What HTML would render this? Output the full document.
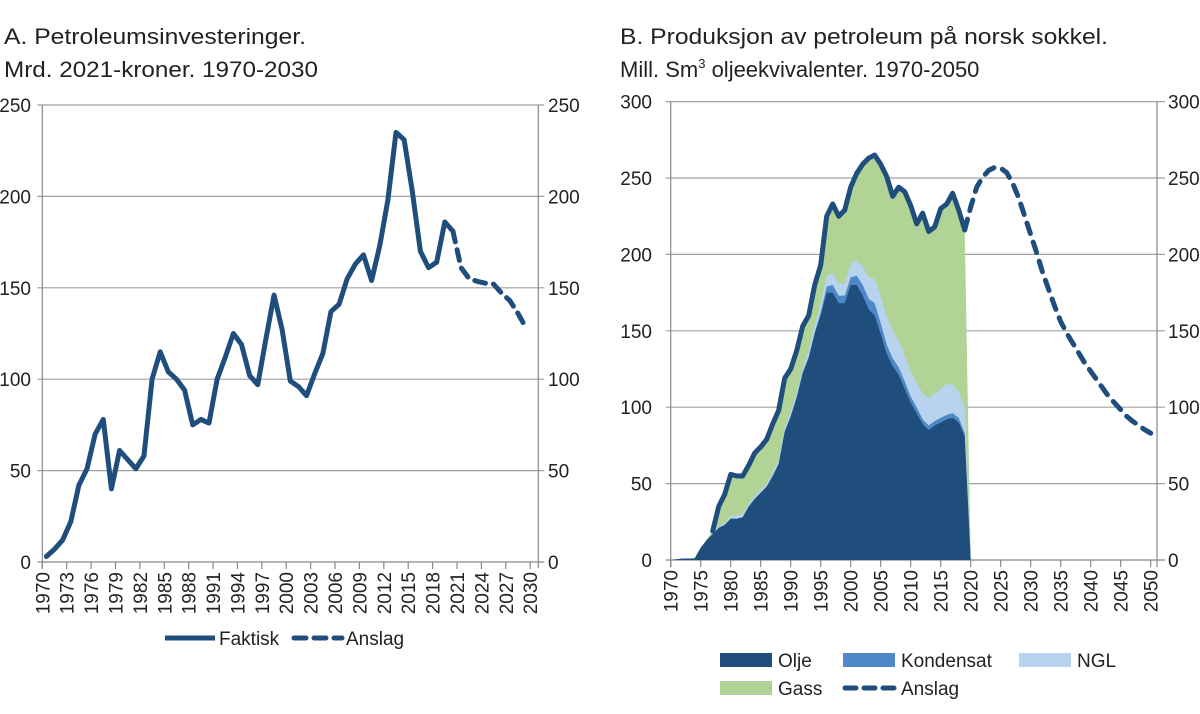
<!DOCTYPE html>
<html><head><meta charset="utf-8"><style>
html,body{margin:0;padding:0;background:#fff;}
svg{display:block;font-family:"Liberation Sans",sans-serif;}
</style></head><body>
<svg id="root" width="1200" height="714" viewBox="0 0 1200 714" xmlns="http://www.w3.org/2000/svg">
<g id="chartA">
<text x="4" y="44" font-size="22" fill="#222" textLength="302" lengthAdjust="spacingAndGlyphs">A. Petroleumsinvesteringer.</text>
<text x="4" y="77" font-size="22" fill="#222" textLength="314" lengthAdjust="spacingAndGlyphs">Mrd. 2021-kroner. 1970-2030</text>
</g>
<g id="chartB">
<text x="620" y="44" font-size="22" fill="#222" textLength="488" lengthAdjust="spacingAndGlyphs">B. Produksjon av petroleum på norsk sokkel.</text>
<text x="620" y="77" font-size="22" fill="#222">Mill. Sm<tspan font-size="13" dy="-9">3</tspan><tspan dy="9"> oljeekvivalenter. 1970-2050</tspan></text>
</g>
</svg>
<script>
// ---------- Chart A data ----------
const aYears = [1970,1971,1972,1973,1974,1975,1976,1977,1978,1979,1980,1981,1982,1983,1984,1985,1986,1987,1988,1989,1990,1991,1992,1993,1994,1995,1996,1997,1998,1999,2000,2001,2002,2003,2004,2005,2006,2007,2008,2009,2010,2011,2012,2013,2014,2015,2016,2017,2018,2019,2020];
const aActual = [3,7,12,22,42,51,70,78,40,61,56,51,58,100,115,104,100,94,75,78,76,100,112,125,119,102,97,122,146,127,99,96,91,103,114,137,141,155,163,168,154,173,198,235,231,203,170,161,164,186,181];
const aForecastYears = [2020,2021,2022,2023,2024,2025,2026,2027,2028,2029];
const aForecast = [181,161,155,153.5,152.5,152,147,143,136,128];
const aYTicks = [0,50,100,150,200,250];
const aXLabels = [1970,1973,1976,1979,1982,1985,1988,1991,1994,1997,2000,2003,2006,2009,2012,2015,2018,2021,2024,2027,2030];

// ---------- Chart B data ----------
const bYears = [1970,1971,1972,1973,1974,1975,1976,1977,1978,1979,1980,1981,1982,1983,1984,1985,1986,1987,1988,1989,1990,1991,1992,1993,1994,1995,1996,1997,1998,1999,2000,2001,2002,2003,2004,2005,2006,2007,2008,2009,2010,2011,2012,2013,2014,2015,2016,2017,2018,2019];
const bOil = [0,0.5,1,1,1,8,13,17,21,23,27,27,28,35,40,44,48,55,63,84,94,106,122,132,148,160,175,175,168,168,180,180,173,164,160,148,135,127,121,112,103,96,89,85,88,90,92,93,90,81];
const bCond = [0,0,0,0,0,0,0,0,0,0,0,0,0,0,0,0,0,0,0,0,0,1,1,1,1,2,4,5,5,5,5,6,7,7,8,7,6,5,5,5,4,4,3,3,3,3,3,3,3,2];
const bNgl = [0,0,0,0,0,0,0,0.5,1,1,2,2,2,2,2,2,2,2,3,3,3,3,3,4,5,6,7,8,8,8,9,10,12,14,16,18,18,18,18,17,16,16,17,18,18,19,20,19,17,17];
const bGas = [0,0,0,0,0.5,0,0.5,1.5,13,19,27,26,25,25,28,28,29,32,32,32,28,27,27,23,26,25,39,45,44,48,50,57,67,78,81,86,92,88,100,107,109,104,118,109,109,118,118,125,119,116];
const bForecastYears = [2019,2020,2021,2022,2023,2024,2025,2026,2027,2028,2029,2030,2031,2032,2033,2034,2035,2036,2037,2038,2039,2040,2041,2042,2043,2044,2045,2046,2047,2048,2049,2050];
const bForecast = [216,231,244,250.5,255,257,256.5,253.5,246.5,237,225,213,201,188,177,166,156,148.5,142,135.5,129,123.5,118,112.5,107,102.7,98.4,94,90.8,88,85.3,83];
const bYTicks = [0,50,100,150,200,250,300];
const bXLabels = [1970,1975,1980,1985,1990,1995,2000,2005,2010,2015,2020,2025,2030,2035,2040,2045,2050];

const NS = "http://www.w3.org/2000/svg";
function mk(parent, tag, attrs){ const e=document.createElementNS(NS,tag); for(const k in attrs) e.setAttribute(k,attrs[k]); parent.appendChild(e); return e; }
const BLUE = "#1f4e7d";

// ---------- Chart A ----------
(function(){
  const g = document.getElementById('chartA');
  const L=42.3, R=538.3, Y0=562, Y1=105, vmax=250, step=(R-L)/61;
  const y = v => Y0 - (v/vmax)*(Y0-Y1);
  const xc = yr => L + (yr-1970+0.5)*step;
  const xt = yr => L + (yr-1970)*step;
  aYTicks.forEach(t=>{
    const ln = mk(g,'line',{x1:L-5,x2:R+6,y1:y(t),y2:y(t),stroke:t===0?'#888':'#a0a0a0','stroke-width':1.2});
    
    
    const tl = mk(g,'text',{x:31,y:y(t)+7,'text-anchor':'end','font-size':19,fill:'#222'});
    tl.textContent=t;
    
    
    const tr = mk(g,'text',{x:548,y:y(t)+7,'font-size':19,fill:'#222'});
    tr.textContent=t;
    
    
  });
  const ax1 = mk(g,'line',{x1:L,x2:L,y1:Y1,y2:Y0+6,stroke:'#888','stroke-width':1.2});
  
  
  const ax2 = mk(g,'line',{x1:R,x2:R,y1:Y1,y2:Y0+6,stroke:'#888','stroke-width':1.2});
  
  
  aXLabels.forEach(yr=>{
    const tk = mk(g,'line',{x1:xt(yr),x2:xt(yr),y1:Y0,y2:Y0+7,stroke:'#888','stroke-width':1.2});
    
    
    const t = mk(g,'text',{transform:`translate(${xt(yr)+7},${Y0+10}) rotate(-90)`,'text-anchor':'end','font-size':19,fill:'#222'});
    t.textContent=yr;
    
    
  });
  const p1 = mk(g,'polyline',{points:aYears.map((yr,i)=>xc(yr)+','+y(aActual[i])).join(' '),fill:'none',stroke:BLUE,'stroke-width':5,'stroke-linejoin':'round','stroke-linecap':'round'});
  
  
  const p2 = mk(g,'polyline',{points:aForecastYears.map((yr,i)=>xc(yr)+','+y(aForecast[i])).join(' '),fill:'none',stroke:BLUE,'stroke-width':5,'stroke-dasharray':'11 8','stroke-linejoin':'round','stroke-linecap':'round'});
  
  
  // legend
  const lg = mk(g,'g',{});
  
  
  const l1 = mk(lg,'line',{x1:165,x2:215,y1:638,y2:638,stroke:BLUE,'stroke-width':5});
  
  
  const t1 = mk(lg,'text',{x:219,y:645,'font-size':19,fill:'#222'}); t1.textContent='Faktisk';
  
  
  const l2 = mk(lg,'line',{x1:294,x2:342,y1:638,y2:638,stroke:BLUE,'stroke-width':5,'stroke-dasharray':'12 8','stroke-linecap':'round'});
  
  
  const t2 = mk(lg,'text',{x:346,y:645,'font-size':19,fill:'#222'}); t2.textContent='Anslag';
  
  
})();

// ---------- Chart B ----------
(function(){
  const g = document.getElementById('chartB');
  const L=670.7, R=1157, Y0=560, Y1=101.6, vmax=300, step=6;
  const y = v => Y0 - (v/vmax)*(Y0-Y1);
  const x = yr => L + (yr-1970)*step;
  bYTicks.forEach(t=>{
    const ln = mk(g,'line',{x1:L-5,x2:R+8,y1:y(t),y2:y(t),stroke:t===0?'#888':'#a0a0a0','stroke-width':1.2});
    
    
    const tl = mk(g,'text',{x:652,y:y(t)+7,'text-anchor':'end','font-size':19,fill:'#222'});
    tl.textContent=t;
    
    
    const tr = mk(g,'text',{x:1168,y:y(t)+7,'font-size':19,fill:'#222'});
    tr.textContent=t;
    
    
  });
  bXLabels.forEach(yr=>{
    const tk = mk(g,'line',{x1:x(yr),x2:x(yr),y1:Y0,y2:Y0+7,stroke:'#888','stroke-width':1.2});
    
    
    const t = mk(g,'text',{transform:`translate(${x(yr)+7},${Y0+10}) rotate(-90)`,'text-anchor':'end','font-size':19,fill:'#222'});
    t.textContent=yr;
    
    
  });
  // stacked areas
  const layers=[[bOil,'#1f4e7d','area-olje'],[bCond,'#4f88c6','area-kondensat'],[bNgl,'#b8d3ee','area-ngl'],[bGas,'#b1d396','area-gass']];
  const cum = bYears.map(()=>0);
  const polys=[];
  layers.forEach(([arr,col,name])=>{
    const low = cum.slice();
    arr.forEach((v,i)=>cum[i]+=v);
    const high = cum.slice();
    polys.push([low,high,col,name]);
  });
  const lastX = x(bYears[bYears.length-1]+1);
  polys.slice().reverse().forEach(([low,high,col,name])=>{
    let pts = bYears.map((yr,i)=>x(yr)+','+y(high[i]));
    pts.push(lastX+','+y(0));
    pts.push(x(bYears[0])+','+y(0));
    const p = mk(g,'polygon',{points:pts.join(' '),fill:col});
    
    
  });
  const ax1 = mk(g,'line',{x1:L,x2:L,y1:Y1,y2:Y0+7,stroke:'#888','stroke-width':1.2});
  
  
  const ax2 = mk(g,'line',{x1:R,x2:R,y1:Y1,y2:Y0+7,stroke:'#888','stroke-width':1.2});
  
  
  // total outline
  const startIdx = bYears.indexOf(1977);
  const tot = mk(g,'polyline',{points:bYears.slice(startIdx).map((yr,j)=>x(yr)+','+y(cum[j+startIdx])).join(' '),fill:'none',stroke:BLUE,'stroke-width':5,'stroke-linejoin':'round','stroke-linecap':'round'});
  
  
  const fc = mk(g,'polyline',{points:bForecastYears.map((yr,i)=>x(yr)+','+y(bForecast[i])).join(' '),fill:'none',stroke:BLUE,'stroke-width':5,'stroke-dasharray':'11 9','stroke-linejoin':'round','stroke-linecap':'round'});
  
  
  // legend
  const lg = mk(g,'g',{});
  
  
  const items=[['Olje','#1f4e7d',720,660,'legend-olje'],['Kondensat','#4f88c6',843,660,'legend-kondensat'],['NGL','#b8d3ee',1019,660,'legend-ngl'],['Gass','#b1d396',720,688,'legend-gass']];
  items.forEach(([lab,col,lx,ly,nm])=>{
    const r = mk(lg,'rect',{x:lx,y:ly-7,width:52,height:14,fill:col});
    
    
    const t = mk(lg,'text',{x:lx+58,y:ly+7,'font-size':19,fill:'#222'}); t.textContent=lab;
    
    
  });
  const dl = mk(lg,'line',{x1:845,x2:894,y1:688,y2:688,stroke:BLUE,'stroke-width':5,'stroke-dasharray':'11 8','stroke-linecap':'round'});
  
  
  const dt = mk(lg,'text',{x:901,y:695,'font-size':19,fill:'#222'}); dt.textContent='Anslag';
  
  
})();
</script>
</body></html>
